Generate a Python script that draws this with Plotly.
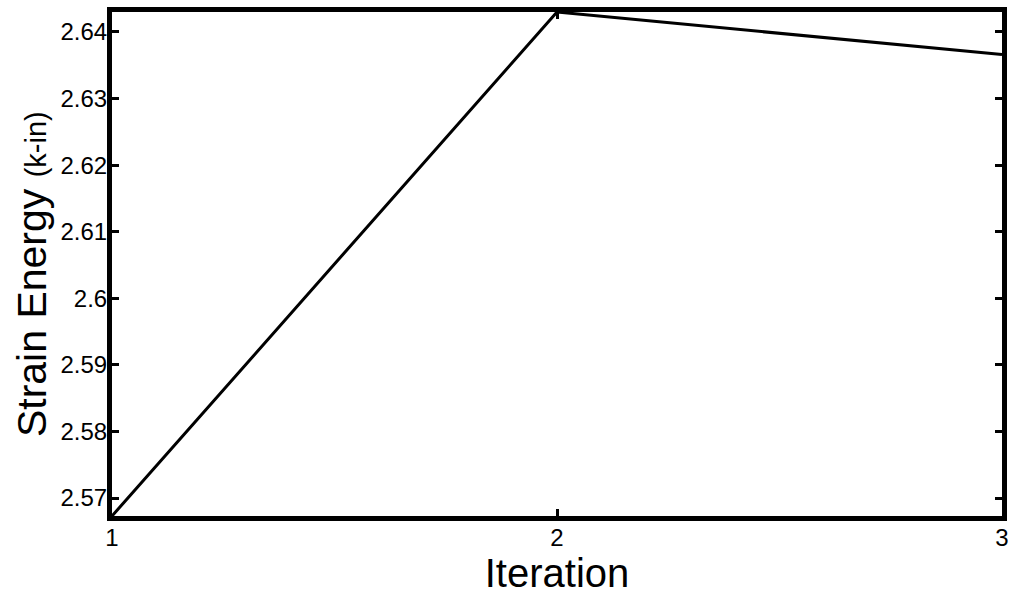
import plotly.graph_objects as go

iterations = [1, 2, 3]
strain_energy = [2.5673, 2.6430, 2.6366]
y_ticks = [2.57, 2.58, 2.59, 2.60, 2.61, 2.62, 2.63, 2.64]
y_tick_labels = ["2.57", "2.58", "2.59", "2.6", "2.61", "2.62", "2.63", "2.64"]
x_ticks = [1, 2, 3]

fig = go.Figure()
fig.add_trace(go.Scatter(x=iterations, y=strain_energy, mode="lines",
                         line=dict(color="black", width=3), cliponaxis=False))

font = "Liberation Sans, Arial, sans-serif"
fig.update_layout(
    width=1016, height=595,
    margin=dict(l=112, r=7, t=11, b=79),
    paper_bgcolor="white", plot_bgcolor="white",
    showlegend=False,
    font=dict(family=font, color="black"),
)
fig.update_xaxes(
    range=[1, 3], tickvals=x_ticks, ticktext=[str(v) for v in x_ticks],
    showgrid=False, zeroline=False,
    showline=True, linecolor="black", linewidth=5, mirror="ticks",
    ticks="inside", ticklen=7, tickwidth=3, tickcolor="black",
    tickfont=dict(size=24, family=font), ticklabelstandoff=-4,
    title=dict(text="Iteration", font=dict(size=40, family=font), standoff=2),
)
fig.update_yaxes(
    range=[min(strain_energy), max(strain_energy)],
    tickvals=y_ticks, ticktext=y_tick_labels,
    showgrid=False, zeroline=False,
    showline=True, linecolor="black", linewidth=5, mirror="ticks",
    ticks="inside", ticklen=7, tickwidth=3, tickcolor="black",
    tickfont=dict(size=24, family=font), ticklabelstandoff=-5,
)
fig.add_annotation(
    text="Strain Energy <span style='font-size:29px'>(k-in)</span>",
    xref="paper", yref="paper", x=0, y=0.48, xanchor="center", yanchor="middle",
    xshift=-80, textangle=-90, showarrow=False,
    font=dict(size=41, family=font, color="black"),
)

fig.write_html("out.html", config={"displayModeBar": False},
               post_script="document.body.style.margin='0px';")
